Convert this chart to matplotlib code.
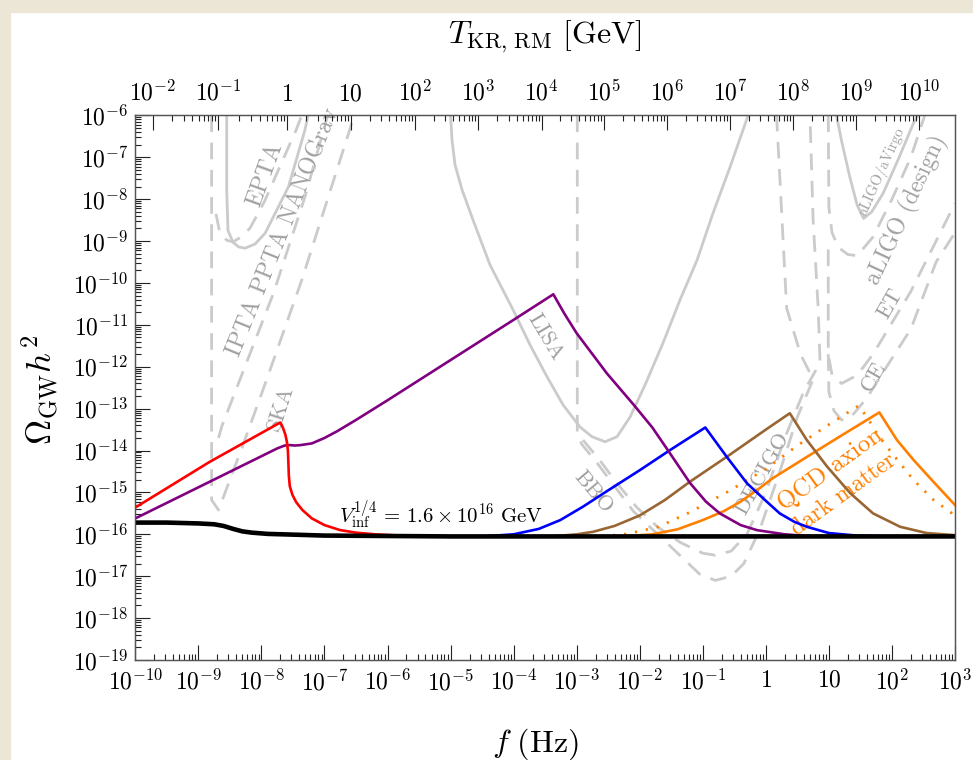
import numpy as np
import matplotlib
matplotlib.use("Agg")
import matplotlib.pyplot as plt
from matplotlib.patches import Rectangle

plt.rcParams["mathtext.fontset"] = "cm"
plt.rcParams["font.family"] = "serif"
plt.rcParams["font.serif"] = ["cmr10", "DejaVu Serif"]
plt.rcParams["axes.formatter.use_mathtext"] = True

# ---------------- data (log10 f [Hz], log10 Omega h^2) ----------------
floor_lf = [-10, -9.5, -9.0, -8.75, -8.6, -8.45, -8.3, -8.15, -7.9, -7.44, -7.0, -6.0, -5.0, 3.0]
floor_lo = [-15.72, -15.72, -15.74, -15.76, -15.80, -15.87, -15.93, -15.96, -15.99, -16.01, -16.03, -16.04, -16.05, -16.05]

red_lf = [-10, -8.82, -7.70, -7.66, -7.62, -7.595, -7.58, -7.572, -7.565, -7.55, -7.51, -7.45, -7.35, -7.2,
          -7.0, -6.75, -6.5, -6.2, -5.8, -5.3]
red_lo = [-15.36, -14.27, -13.33, -13.45, -13.62, -13.80, -14.0, -14.3, -14.6, -14.85, -15.05, -15.23, -15.42, -15.62,
          -15.78, -15.90, -15.96, -16.0, -16.03, -16.05]

purple_lf = [-10, -8.8, -7.75, -7.63, -7.55, -7.47, -7.38, -7.2, -7.0, -6.8, -6.5, -6.0, -5.0, -4.0, -3.37,
             -3.2, -3.0, -2.52, -2.1, -1.8, -1.55, -1.2, -0.95, -0.73, -0.4, -0.14, 0.3, 0.65, 1.5]
purple_lo = [-15.62, -14.73, -13.95, -13.88, -13.87, -13.88, -13.87, -13.83, -13.70, -13.54, -13.27, -12.80, -11.84, -10.88, -10.27,
             -10.72, -11.20, -12.16, -12.9, -13.45, -14.0, -14.78, -15.22, -15.50, -15.78, -15.90, -16.0, -16.04, -16.05]

blue_lf = [-4.5, -4.0, -3.6, -3.26, -2.9, -2.5, -2.0, -1.5, -0.96, -0.62, -0.30, 0.0, 0.22, 0.45, 0.65, 1.0, 1.44, 2.0]
blue_lo = [-16.05, -16.0, -15.87, -15.66, -15.34, -14.95, -14.47, -13.97, -13.45, -14.15, -14.78, -15.2, -15.5, -15.7, -15.82, -15.97, -16.03, -16.05]

brown_lf = [-3.4, -3.0, -2.74, -2.4, -2.0, -1.6, -1.2, -0.6, 0.0, 0.38, 0.65, 0.97, 1.34, 1.70, 2.13, 2.55, 3.0]
brown_lo = [-16.05, -16.0, -15.94, -15.80, -15.55, -15.18, -14.74, -14.13, -13.50, -13.11, -13.75, -14.38, -15.02, -15.50, -15.82, -15.97, -16.02]

orange_lf = [-2.3, -1.8, -1.4, -1.0, -0.67, -0.4, -0.1, 0.1, 0.6, 1.2, 1.80, 2.08, 2.34, 2.66, 3.0]
orange_lo = [-16.05, -16.0, -15.88, -15.66, -15.45, -15.22, -14.90, -14.67, -14.20, -13.64, -13.09, -13.75, -14.22, -14.75, -15.3]

axion_lf = [-2.6, -2.2, -1.7, -1.2, -0.6, 0.0, 0.5, 1.0, 1.47, 1.60, 1.76, 1.92, 2.34, 2.66, 3.0]
axion_lo = [-16.05, -15.99, -15.82, -15.47, -14.98, -14.44, -13.88, -13.38, -12.93, -13.19, -13.59, -13.91, -14.70, -15.18, -15.55]

# experimental sensitivity curves (grey)
epta_lf = [-8.55, -8.55, -8.53, -8.45, -8.36, -8.26, -8.1, -7.94, -7.57, -7.31, -7.26]
epta_lo = [-6.0, -7.8, -8.75, -9.03, -9.14, -9.17, -9.07, -8.81, -7.70, -6.35, -6.0]
nano_lf = [-8.72, -8.66, -8.55, -8.45, -8.31, -8.18, -7.95, -7.7, -7.45, -7.36]
nano_lo = [-8.35, -8.8, -8.98, -9.02, -8.89, -8.69, -8.05, -7.2, -6.35, -6.0]
ipta_lf = [-8.68, -8.63, -8.45, -7.81, -7.3, -6.95]
ipta_lo = [-13.7, -13.43, -12.73, -10.25, -7.9, -6.0]
ska_lf = [-8.79, -8.79, -8.68, -8.3, -7.92, -7.36, -6.59, -6.54]
ska_lo = [-6.0, -15.18, -15.42, -13.9, -12.32, -9.93, -6.30, -6.0]
lisa_lf = [-5.0, -4.977, -4.929, -4.817, -4.643, -4.374, -4.009, -3.739, -3.470, -3.216, -2.946, -2.756, -2.550,
           -2.360, -2.153, -1.915, -1.630, -1.360, -1.090, -0.837, -0.567, -0.281]
lisa_lo = [-6.0, -6.59, -7.18, -7.78, -8.50, -9.57, -10.64, -11.48, -12.24, -12.91, -13.44, -13.67, -13.79,
           -13.67, -13.20, -12.43, -11.43, -10.40, -9.45, -8.33, -7.23, -6.0]
bbo_lf = [-2.99, -2.99, -2.92, -2.7, -2.4, -2.1, -1.75, -1.4, -1.05, -0.8, -0.55, -0.35, -0.1, 0.2, 0.5, 0.75, 0.55, 0.33, 0.17]
bbo_lo = [-6.0, -13.6, -13.85, -14.25, -14.85, -15.45, -15.95, -16.45, -16.95, -17.1, -17.0, -16.7, -15.9, -14.6, -13.2, -12.3, -11.7, -10.6, -6.0]
decigo_lf = [-2.9, -2.65, -2.35, -2.05, -1.72, -1.35, -1.0, -0.8, -0.55, -0.3, 0.0, 0.3, 0.6, 0.86, 0.83, 0.75, 0.70]
decigo_lo = [-13.75, -14.2, -14.8, -15.35, -15.82, -16.2, -16.45, -16.5, -16.4, -16.0, -15.0, -13.7, -12.6, -11.9, -10.6, -8.5, -6.0]
ligo_lf = [1.12, 1.2, 1.33, 1.45, 1.55, 1.68, 1.86, 2.1, 2.34, 2.41]
ligo_lo = [-6.0, -6.6, -7.46, -8.15, -8.46, -8.3, -7.86, -7.05, -6.19, -6.0]
ligod_lf = [0.99, 1.0, 1.05, 1.15, 1.3, 1.45, 1.7, 2.0, 2.3, 2.52]
ligod_lo = [-6.0, -8.2, -8.8, -9.15, -9.32, -9.35, -8.9, -8.0, -7.0, -6.0]
et_lf = [0.99, 0.99, 1.05, 1.2, 1.45, 1.7, 2.0, 2.3, 2.6, 3.0]
et_lo = [-9.2, -11.7, -12.2, -12.4, -12.2, -11.7, -10.95, -10.2, -9.3, -8.1]
ce_lf = [0.99, 1.0, 1.08, 1.2, 1.35, 1.6, 2.0, 2.3, 2.7, 3.0]
ce_lo = [-11.7, -12.6, -13.05, -13.27, -13.2, -12.75, -11.8, -11.1, -9.5, -8.8]

# bottom / left axis ticks
xtick_exp = list(range(-10, 4))
xtick_lbl = [r"$10^{%d}$" % e for e in range(-10, -1)] + [r"$10^{-1}$", r"$1$", r"$10$", r"$10^{2}$", r"$10^{3}$"]
ytick_exp = list(range(-19, -5))
ytick_lbl = [r"$10^{%d}$" % e for e in ytick_exp]

# top axis: temperature T [GeV] and corresponding log10 f positions
top_T_exp = list(range(-2, 11))
top_T_lf = [-9.724, -8.684, -7.589, -6.584, -5.564, -4.560, -3.554, -2.566, -1.567, -0.568, 0.436, 1.431, 2.430]
top_lbl = [r"$10^{-2}$", r"$10^{-1}$", r"$1$", r"$10$"] + [r"$10^{%d}$" % e for e in range(2, 11)]

# ---------------- figure ----------------
W, H = 973, 760
fig = plt.figure(figsize=(W / 100, H / 100), dpi=100)
fig.patches.append(Rectangle((0, 1 - 12 / H), 1, 12 / H, transform=fig.transFigure, color="#ece6d6", zorder=-5))
fig.patches.append(Rectangle((0, 0), 10 / W, 1, transform=fig.transFigure, color="#ece6d6", zorder=-5))

x0, x1, y0, y1 = 135.3, 955, 115.4, 660
ax = fig.add_axes([x0 / W, 1 - y1 / H, (x1 - x0) / W, (y1 - y0) / H])
ax.set_xscale("log")
ax.set_yscale("log")
ax.set_xlim(1e-10, 1e3)
ax.set_ylim(1e-19, 1e-6)

def P(lf, lo):
    return 10 ** np.asarray(lf, float), 10 ** np.asarray(lo, float)

grey = "#cbcbcb"
dash = (0, (6.0, 3.8))
gkw = dict(color=grey, lw=2.0, zorder=1, solid_joinstyle="round")
for lf, lo, ls in [(epta_lf, epta_lo, "-"), (nano_lf, nano_lo, dash), (ipta_lf, ipta_lo, dash),
                   (ska_lf, ska_lo, dash), (lisa_lf, lisa_lo, "-"), (bbo_lf, bbo_lo, dash),
                   (decigo_lf, decigo_lo, dash), (ligo_lf, ligo_lo, "-"), (ligod_lf, ligod_lo, dash),
                   (et_lf, et_lo, dash), (ce_lf, ce_lo, dash)]:
    ax.plot(*P(lf, lo), ls=ls, **gkw)

ckw = dict(lw=1.9, zorder=3, solid_joinstyle="round")
ax.plot(*P(axion_lf, axion_lo), color="#ff8000", lw=2.0, ls=(0, (0.8, 3.2)), zorder=3)
ax.plot(*P(orange_lf, orange_lo), color="#ff8000", **ckw)
ax.plot(*P(brown_lf, brown_lo), color="#996633", **ckw)
ax.plot(*P(blue_lf, blue_lo), color="#0000ff", **ckw)
ax.plot(*P(purple_lf, purple_lo), color="#800080", **ckw)
ax.plot(*P(red_lf, red_lo), color="#ff0000", **ckw)
ax.plot(*P(floor_lf, floor_lo), color="black", lw=3.3, zorder=4, solid_joinstyle="round")

# labels of experiments
lc = "#a0a0a0"
def lab(s, lf, lo, rot, fs=16, c=lc):
    ax.text(10 ** lf, 10 ** lo, s, rotation=rot, fontsize=fs, color=c, ha="center", va="center",
            rotation_mode="anchor", zorder=2)

lab("EPTA", -7.94, -7.42, 70, fs=17)
lab("IPTA PPTA NANOGrav", -7.654, -8.79, 68, fs=17)
lab("SKA", -7.694, -12.99, 72)
lab("LISA", -3.50, -11.28, -59)
lab("BBO", -2.736, -14.98, -50)
lab("DECIGO", -0.05, -14.55, 61)
lab("aLIGO/aVirgo", 1.84, -7.34, 66, fs=10.5)
lab("aLIGO (design)", 2.235, -8.26, 65, fs=17)
lab("ET", 1.97, -10.5, 60)
lab("CE", 1.705, -12.24, 60)
lab("QCD axion", 1.02, -14.46, 36, fs=18, c="#ff8000")
lab("dark matter", 1.23, -15.06, 36, fs=17, c="#ff8000")

ax.text(10 ** -5.16, 10 ** -15.54, r"$V_{\rm inf}^{1/4}\,=\,1.6\times10^{16}\ {\rm GeV}$",
        fontsize=15, ha="center", va="center", zorder=5)

# axes ticks
ax.set_xticks([10.0 ** e for e in xtick_exp])
ax.set_xticklabels(xtick_lbl)
ax.set_yticks([10.0 ** e for e in ytick_exp])
ax.set_yticklabels(ytick_lbl)
ax.xaxis.set_minor_locator(matplotlib.ticker.LogLocator(base=10, subs=np.arange(2, 10), numticks=100))
ax.yaxis.set_minor_locator(matplotlib.ticker.LogLocator(base=10, subs=np.arange(2, 10), numticks=100))
ax.xaxis.set_minor_formatter(matplotlib.ticker.NullFormatter())
ax.yaxis.set_minor_formatter(matplotlib.ticker.NullFormatter())
ax.tick_params(which="both", direction="in", top=False, right=False, labelsize=17, width=0.8, color="#222222")
ax.tick_params(which="major", length=11)
ax.tick_params(which="minor", length=4)
ax.tick_params(axis="x", pad=7)
ax.tick_params(axis="y", pad=5)
for s in ax.spines.values():
    s.set_color("#555555")
    s.set_linewidth(0.9)

ax2 = ax.twiny()
ax2.set_xscale("log")
ax2.set_xlim(ax.get_xlim())
ax2.set_xticks([10.0 ** v for v in top_T_lf])
ax2.set_xticklabels(top_lbl)
# minor ticks of T axis: placed between the decade positions
Tminor = []
for i in range(len(top_T_exp) - 1):
    for k in range(2, 10):
        Tminor.append(top_T_lf[i] + np.log10(k) * (top_T_lf[i + 1] - top_T_lf[i]))
ax2.set_xticks([10.0 ** v for v in Tminor], minor=True)
ax2.xaxis.set_minor_formatter(matplotlib.ticker.NullFormatter())
ax2.tick_params(which="both", direction="in", labelsize=17, width=0.8, color="#222222", pad=7)
ax2.tick_params(which="major", length=11)
ax2.tick_params(which="minor", length=4)
for s in ax2.spines.values():
    s.set_color("#555555")
    s.set_linewidth(0.9)

fig.text(545 / W, 1 - 37 / H, r"$T_{\rm KR,\,RM}\ [{\rm GeV}]$", fontsize=23, ha="center", va="center")
fig.text(535 / W, 1 - 744 / H, r"$f\ ({\rm Hz})$", fontsize=23, ha="center", va="center")
fig.text(40 / W, 1 - 390 / H, r"$\Omega_{\rm GW}h^2$", fontsize=25, ha="center", va="center", rotation=90)

fig.savefig("out.png", dpi=100, facecolor="white")
